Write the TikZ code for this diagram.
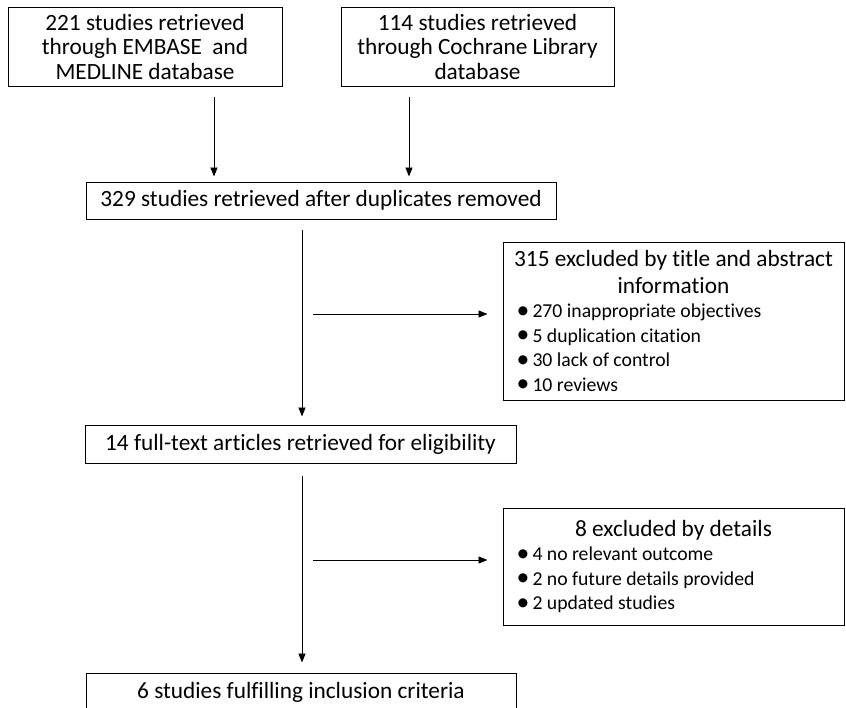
\documentclass[tikz,border=0pt]{standalone}
\usepackage{fontspec}
\setmainfont{Carlito}[Ligatures=NoCommon]
\usetikzlibrary{arrows.meta}

\newcommand{\itm}[1]{\hspace*{8pt}\makebox[16pt][l]{\raisebox{-0.3pt}{\scalebox{1.3}{\textbullet}}}#1}

\begin{document}
\begin{tikzpicture}[x=1pt, y=-1pt,
    box/.style={draw, line width=1pt, inner sep=0pt, align=center,
        font=\fontsize{23.3}{24.5}\selectfont},
    exbox/.style={draw, line width=1pt, inner sep=0pt, minimum width=341pt},
    arr/.style={-{Triangle[length=9pt,width=7pt]}, line width=0.9pt},
    ]
    \useasboundingbox (0,0) rectangle (846,707);

    \node (A) [box, minimum width=274pt, minimum height=79pt] at (145,46.5)
        {221 studies retrieved\\ through EMBASE\ \ and\\ MEDLINE database};
    \node (B) [box, minimum width=273pt, minimum height=79pt] at (477.5,46.5)
        {114 studies retrieved\\ through Cochrane Library\\ database};
    \node (C) [box, minimum width=470pt, minimum height=37pt] at (321,200.5)
        {329 studies retrieved after duplicates removed};
    \node (D) [box, minimum width=431pt, minimum height=38pt] at (300.5,444)
        {14 full-text articles retrieved for eligibility};
    \node (F) [box, minimum width=430pt, minimum height=38pt] at (301,692)
        {6 studies fulfilling inclusion criteria};

    \node (E) [exbox, minimum height=158pt] at (673.5,321) {%
        \parbox{330pt}{\fontsize{23.3}{27}\selectfont\centering
        315 excluded by title and abstract\\ information\par
        \fontsize{19.7}{24.5}\selectfont\raggedright
        \itm{270 inappropriate objectives}\\
        \itm{5 duplication citation}\\
        \itm{30 lack of control}\\
        \itm{10 reviews}}};
    \node (G) [exbox, minimum height=117pt] at (673.5,566.5) {%
        \parbox{330pt}{\fontsize{23.3}{27}\selectfont\centering
        8 excluded by details\par
        \fontsize{19.7}{24.5}\selectfont\raggedright
        \itm{4 no relevant outcome}\\
        \itm{2 no future details provided}\\
        \itm{2 updated studies}}};

    % arrow columns
    \coordinate (a1) at (214,0);
    \coordinate (a2) at (409,0);
    \coordinate (m) at (302,0);
    \coordinate (h1) at (313,314);
    \coordinate (h2) at (313,560);

    \draw [arr, shorten <=10pt, shorten >=5pt] (A.south -| a1) -- (C.north -| a1);
    \draw [arr, shorten <=10pt, shorten >=5pt] (B.south -| a2) -- (C.north -| a2);
    \draw [arr, shorten <=10pt, shorten >=8pt] (C.south -| m) -- (D.north -| m);
    \draw [arr, shorten <=12pt, shorten >=10pt] (D.south -| m) -- (F.north -| m);

    \draw [arr, shorten >=15pt] (h1) -- (h1 -| E.west);
    \draw [arr, shorten >=15pt] (h2) -- (h2 -| G.west);
\end{tikzpicture}
\end{document}
